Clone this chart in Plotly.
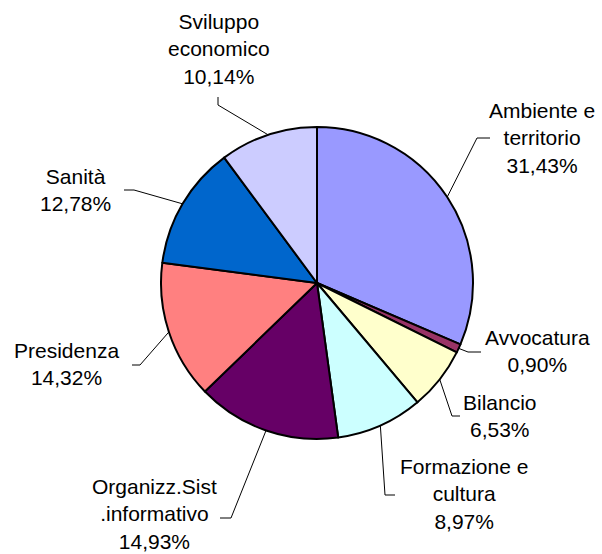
"""Pie chart: distribuzione per area, with Excel-style leader lines."""

import math

import plotly.graph_objects as go

# data
categories = [
    "Ambiente e<br>territorio",
    "Avvocatura",
    "Bilancio",
    "Formazione e<br>cultura",
    "Organizz.Sist<br>.informativo",
    "Presidenza",
    "Sanità",
    "Sviluppo<br>economico",
]
shares = [31.43, 0.90, 6.53, 8.97, 14.93, 14.32, 12.78, 10.14]
colors = ["#9999FF", "#993366", "#FFFFCC", "#CCFFFF", "#660066", "#FF8080", "#0066CC", "#CCCCFF"]

# layout (pixels in a 602x554 page)
W, H = 602, 554
CX, CY, R = 317, 283, 156
# text centre of each label
label_pos = [(542, 138), (537, 351), (500, 416), (464, 494), (154, 514), (66, 364), (75, 190), (219, 49)]
# leader line: text-side end and the elbow point
line_end = [(490, 138), (481, 352), (460, 416), (395, 495), (220, 518), (132, 365), (124, 190), (218, 97)]
line_elbow = [(477, 138), (468, 352), (452, 416), (385, 495), (231, 518), (140, 365), (134, 190), (218, 105)]


def px_to_paper(x, y):
    return x / W, 1 - y / H


def fmt_pct(v):
    return f"{v:.2f}".replace(".", ",") + "%"


fig = go.Figure(
    go.Pie(
        labels=[c.replace("<br>", " ") for c in categories],
        values=shares,
        sort=False,
        direction="clockwise",
        rotation=0,
        marker=dict(colors=colors, line=dict(color="black", width=2)),
        textinfo="none",
        hoverinfo="label+percent",
        domain=dict(
            x=[(CX - R) / W, (CX + R) / W],
            y=[1 - (CY + R) / H, 1 - (CY - R) / H],
        ),
    )
)

total = sum(shares)
cum = 0.0
shapes = []
annotations = []
for i, v in enumerate(shares):
    # leader line starts on the rim at the middle of the slice
    mid = (cum + v / 2) / total
    cum += v
    ang = math.radians(90 - 360 * mid)
    ex, ey = CX + R * math.cos(ang), CY - R * math.sin(ang)
    p0 = px_to_paper(ex, ey)
    p1 = px_to_paper(*line_elbow[i])
    p2 = px_to_paper(*line_end[i])
    shapes.append(
        dict(
            type="path",
            xref="paper",
            yref="paper",
            path=f"M {p0[0]} {p0[1]} L {p1[0]} {p1[1]} L {p2[0]} {p2[1]}",
            line=dict(color="black", width=1),
        )
    )
    lx, ly = px_to_paper(*label_pos[i])
    annotations.append(
        dict(
            x=lx,
            y=ly,
            xref="paper",
            yref="paper",
            text=f"{categories[i]}<br>{fmt_pct(v)}",
            showarrow=False,
            xanchor="center",
            yanchor="middle",
            align="center",
            font=dict(size=21, color="black", family="Arial, Liberation Sans, sans-serif"),
        )
    )

fig.update_layout(
    width=W,
    height=H,
    margin=dict(l=0, r=0, t=0, b=0),
    paper_bgcolor="white",
    plot_bgcolor="white",
    showlegend=False,
    shapes=shapes,
    annotations=annotations,
)

# drop the browser's default body margin so the page matches the 602x554 frame
fig.write_html(
    "out.html",
    config={"displayModeBar": False},
    post_script="document.body.style.margin = '0px';",
)
